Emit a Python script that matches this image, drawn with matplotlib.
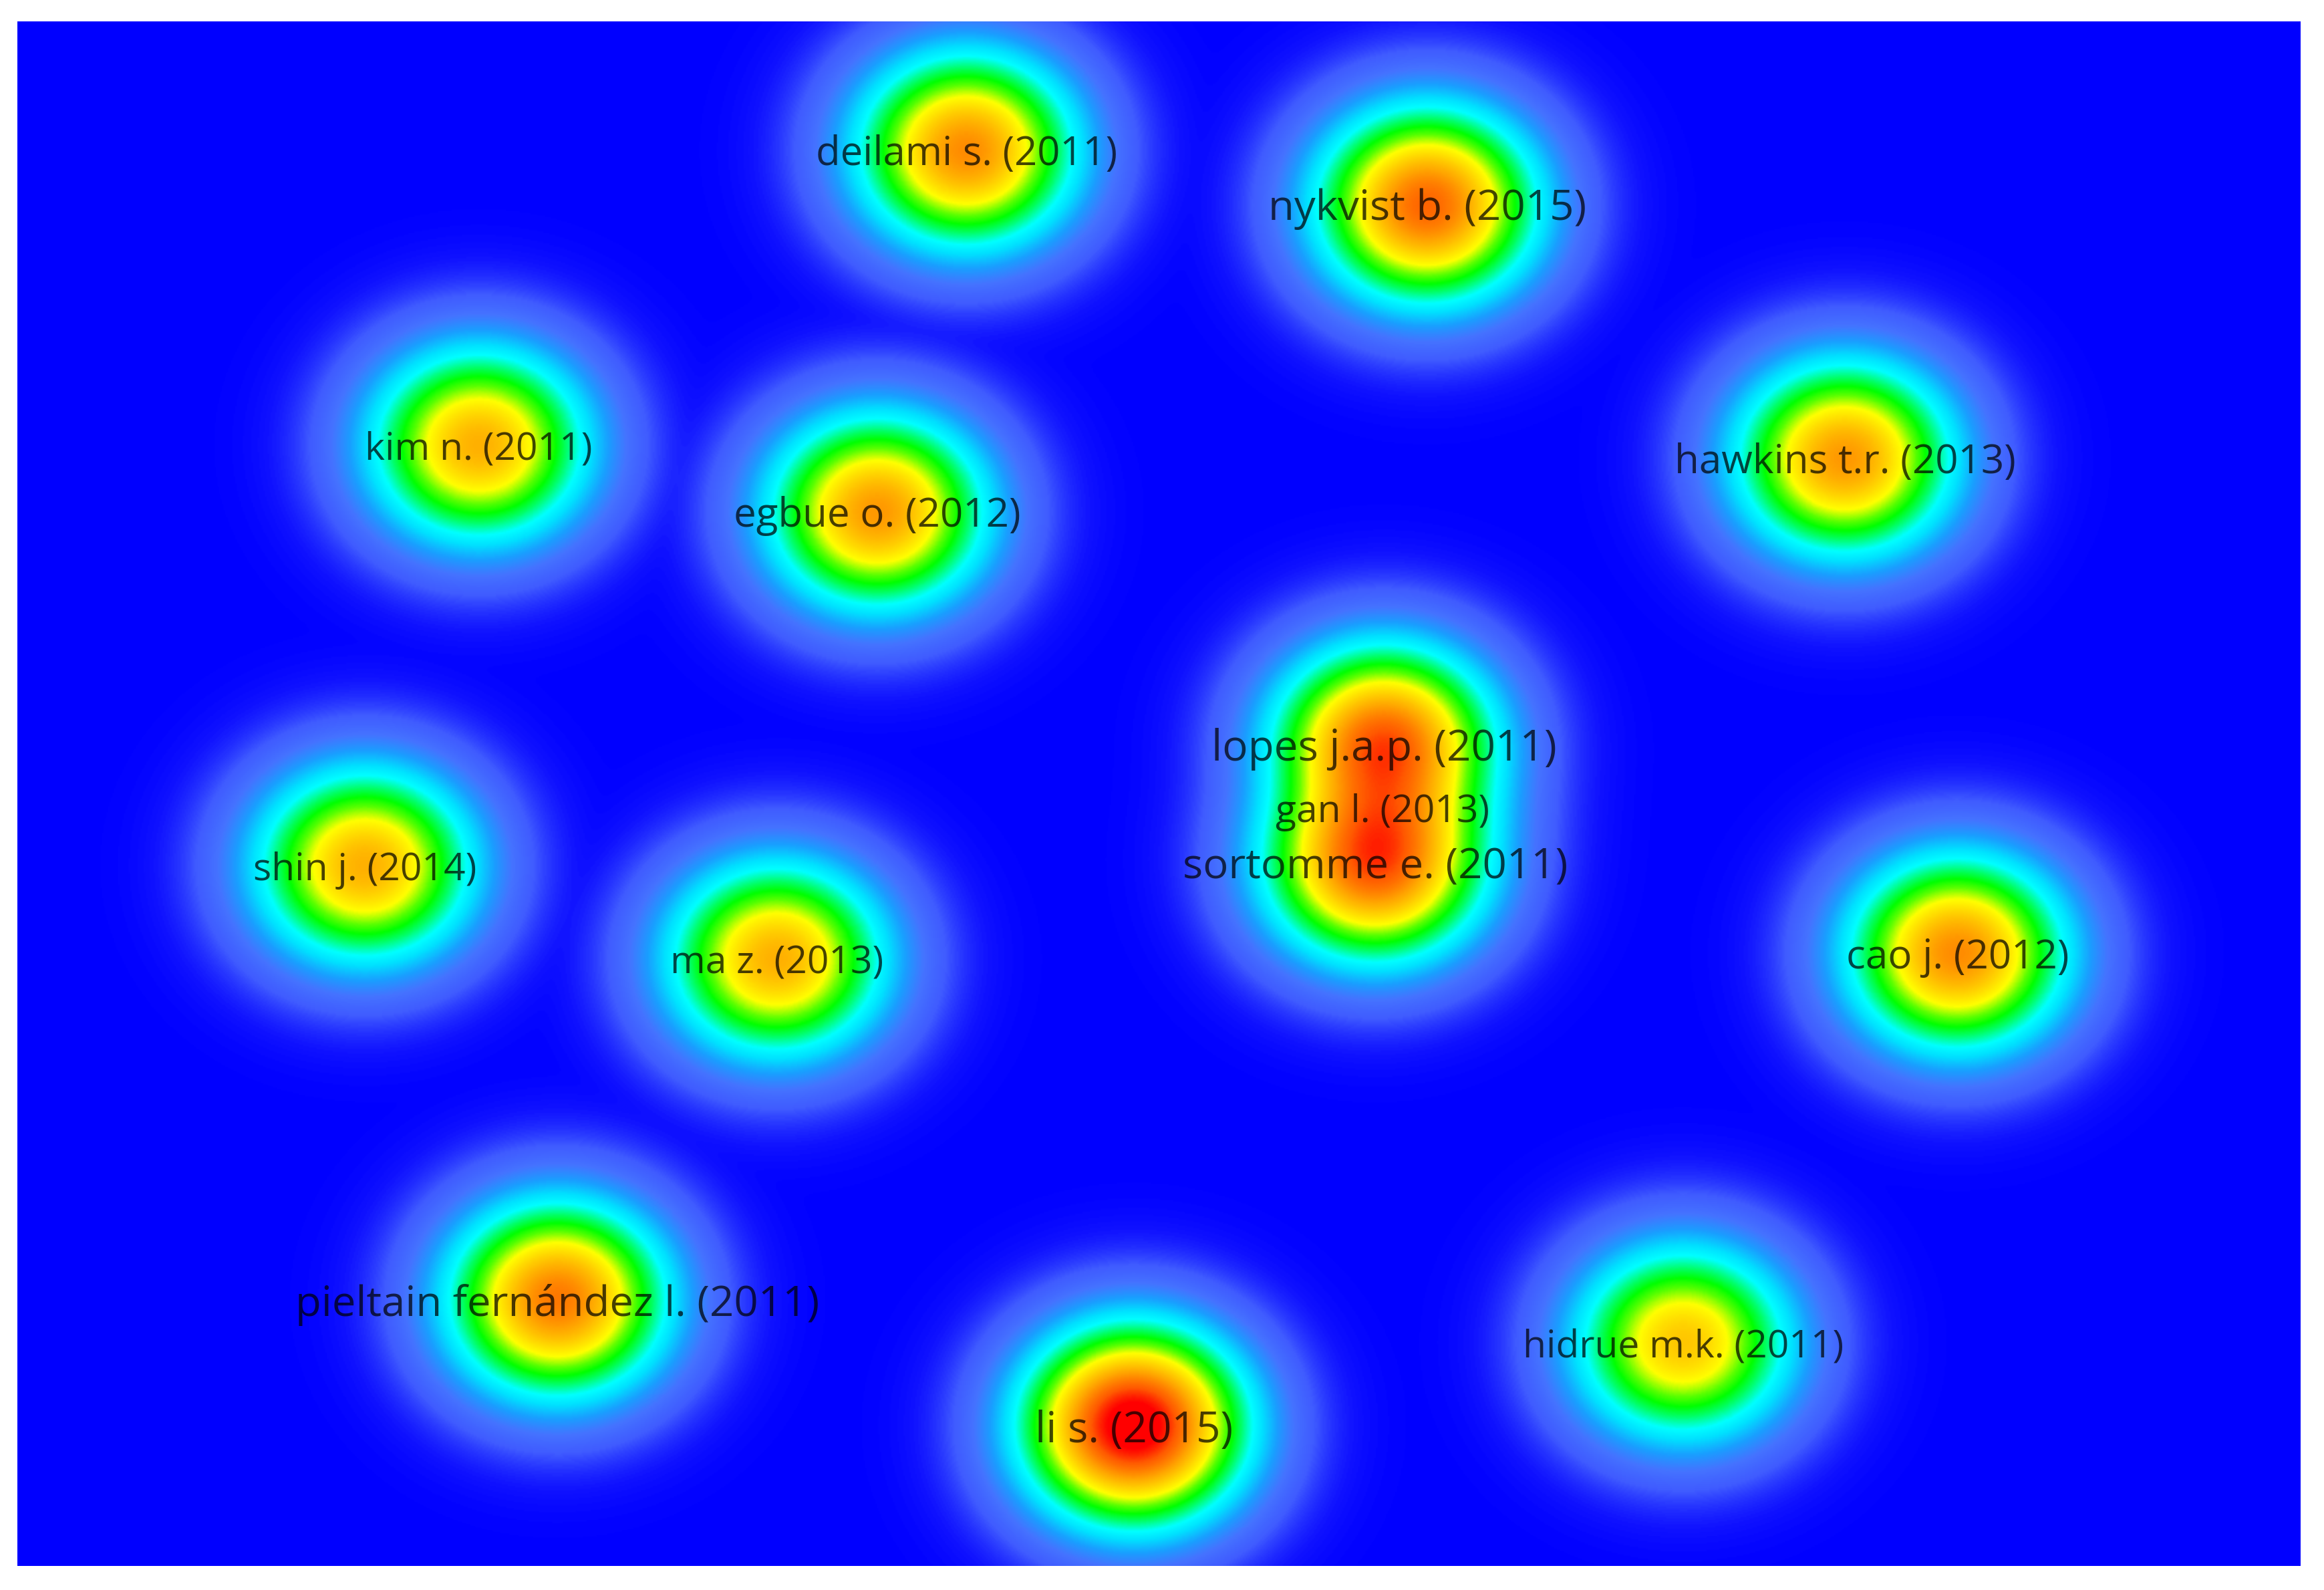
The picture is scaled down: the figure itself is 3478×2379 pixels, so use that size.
# Density map of cited documents (VOSviewer style)
import numpy as np
import matplotlib
matplotlib.use("Agg")
import matplotlib.pyplot as plt
from matplotlib.colors import LinearSegmentedColormap
from matplotlib.transforms import offset_copy

# Document labels
labels = [
    "deilami s. (2011)", "nykvist b. (2015)", "kim n. (2011)", "egbue o. (2012)",
    "hawkins t.r. (2013)", "lopes j.a.p. (2011)", "gan l. (2013)", "sortomme e. (2011)",
    "shin j. (2014)", "ma z. (2013)", "cao j. (2012)", "pieltain fernández l. (2011)",
    "hidrue m.k. (2011)", "li s. (2015)",
]

# Map coordinates of each document
x_pos = [652, 963, 323, 592, 1245, 934, 933, 928, 246, 524, 1321, 376, 1136, 765]
y_pos = [101, 138, 300, 345, 309, 502, 545, 582, 584, 647, 643, 877, 906, 962]

# Relative weight of each document
weights = [0.84, 0.90, 0.78, 0.82, 0.82, 0.92, 0.80, 0.92, 0.78, 0.78, 0.84, 0.87, 0.74, 1.05]

# Label size per document
font_sizes = [43, 45.7, 41, 43.3, 43.3, 45.9, 41, 45.7, 41, 41, 43.3, 45.7, 41, 46]

# Kernel widths
sx, sy = 55, 49

# Grid for the density surface
xmin, xmax = 11.7, 1552.3
ymin, ymax = 14.4, 1056.4
gx = np.linspace(xmin, xmax, 1541)
gy = np.linspace(ymin, ymax, 1043)
X, Y = np.meshgrid(gx, gy)

# kernels are combined with a p-norm, so close items merge into one ridge
p = 4
acc = np.zeros_like(X)
for x, y, w in zip(x_pos, y_pos, weights):
    k = w * np.exp(-((X - x) ** 2 / (2 * sx ** 2) + (Y - y) ** 2 / (2 * sy ** 2)))
    acc += k ** p
density = acc ** (1 / p)

cmap = LinearSegmentedColormap.from_list("vos", [
    (0.00, (0.0, 0.0, 1.0)),
    (0.025, (0.06, 0.07, 1.0)),
    (0.09, (0.25, 0.36, 1.0)),
    (0.15, (0.27, 0.45, 1.0)),
    (0.22, (0.10, 0.62, 1.0)),
    (0.30, (0.0, 0.88, 1.0)),
    (0.36, (0.0, 1.0, 1.0)),
    (0.44, (0.0, 1.0, 0.4)),
    (0.50, (0.0, 1.0, 0.0)),
    (0.56, (0.35, 1.0, 0.0)),
    (0.64, (1.0, 1.0, 0.0)),
    (0.80, (1.0, 0.65, 0.0)),
    (0.92, (1.0, 0.35, 0.0)),
    (1.00, (1.0, 0.0, 0.0)),
])

fig = plt.figure(figsize=(34.78, 23.79), dpi=100)
ax = fig.add_axes([0.0075, 0.0151, 0.9824, 0.9714])
ax.imshow(density, cmap=cmap, vmin=0, vmax=1.0, origin="upper",
          extent=[xmin, xmax, ymax, ymin], interpolation="bilinear", aspect="auto")

# labels sit a few pixels lower than the bbox centre
text_tr = offset_copy(ax.transData, fig=fig, x=0, y=-7, units="dots")
for x, y, lab, fs in zip(x_pos, y_pos, labels, font_sizes):
    ax.text(x, y, lab, ha="center", va="center", fontsize=fs, transform=text_tr,
            family="Open Sans", color="black", alpha=0.72)

ax.set_xlim(xmin, xmax)
ax.set_ylim(ymax, ymin)
ax.axis("off")

fig.savefig("out.png", dpi=100, facecolor="white")
